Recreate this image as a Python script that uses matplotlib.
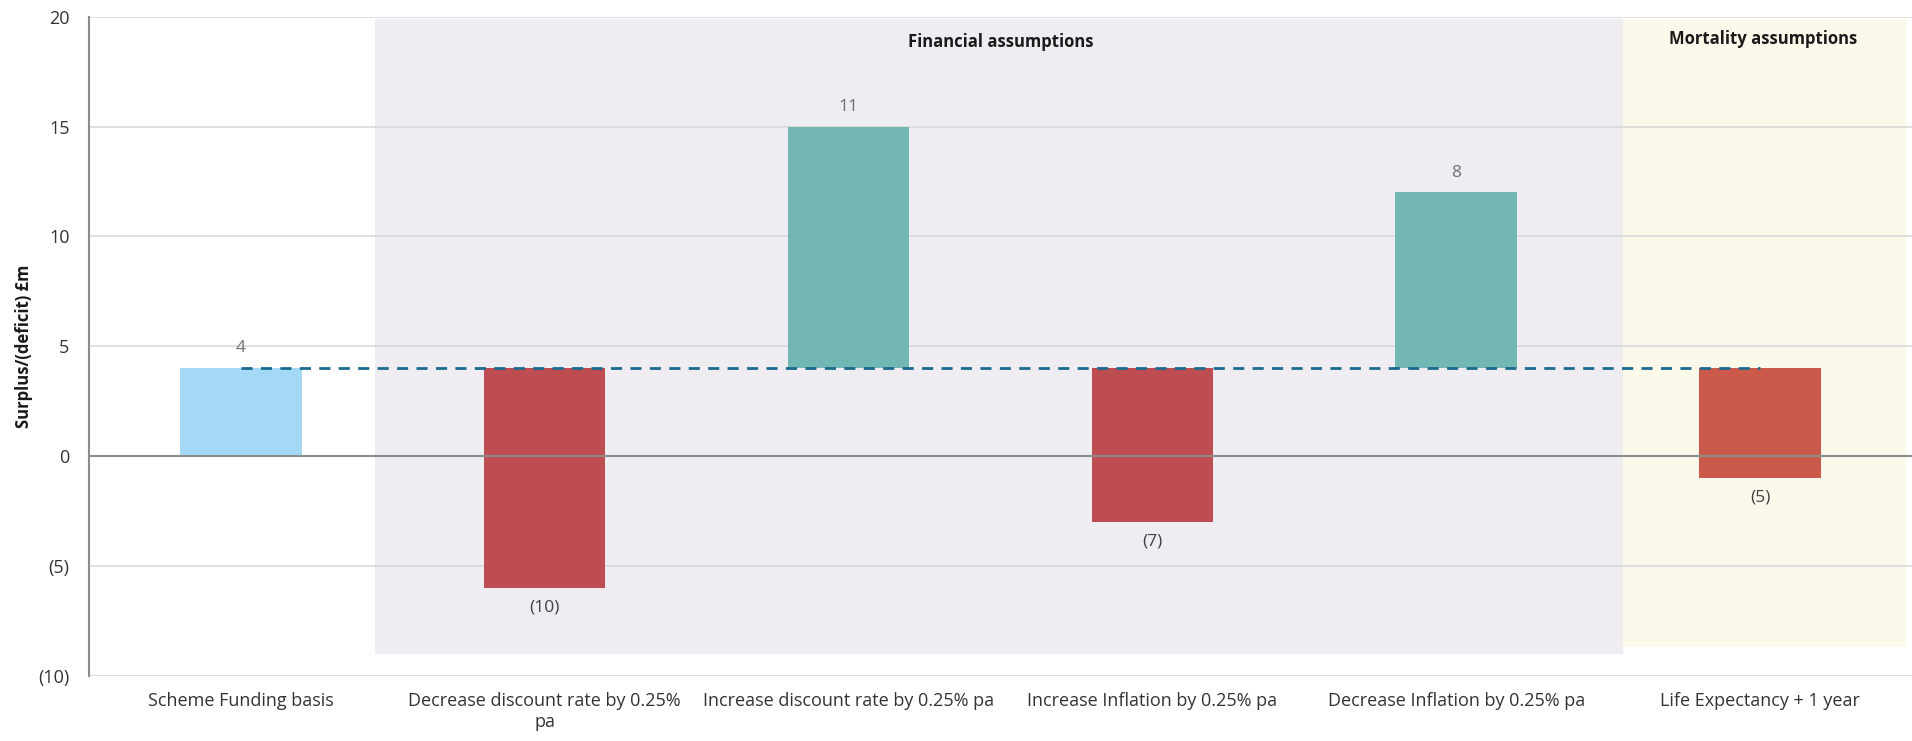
import matplotlib
matplotlib.use("Agg")
import matplotlib.pyplot as plt
from matplotlib.patches import Rectangle

plt.rcParams['font.family'] = ['Open Sans', 'DejaVu Sans']

# data
categories = ['Scheme Funding basis', 'Decrease discount rate by 0.25%\npa',
              'Increase discount rate by 0.25% pa', 'Increase Inflation by 0.25% pa',
              'Decrease Inflation by 0.25% pa', 'Life Expectancy + 1 year']
base_value = 4
changes = [-10, 11, -7, 8, -5]
bar_colors = ['#A3D9F6', '#BE4D51', '#72B7B3', '#BE4D51', '#72B7B3', '#CC5A4B']
y_ticks = [-10, -5, 0, 5, 10, 15, 20]
y_ticklabels = ['(10)', '(5)', '0', '5', '10', '15', '20']


def fmt(v):
    return '({})'.format(abs(v)) if v < 0 else str(v)


fig = plt.figure(figsize=(19.12, 7.41), dpi=100)
ax = fig.add_axes([0.0465, 0.088, 0.9535, 0.8895])
ax.set_axisbelow(True)

# shaded groups
ax.add_patch(Rectangle((0.44, -9.0), 4.11, 28.9, facecolor='#EFEDF2', edgecolor='none', zorder=0))
ax.add_patch(Rectangle((4.55, -8.7), 0.93, 28.6, facecolor='#FCF9EB', edgecolor='none', zorder=0))
ax.text(2.5, 18.85, 'Financial assumptions', ha='center', va='center',
        fontsize=12, fontweight='bold', color='#1a1a1a')
ax.text(5.01, 19.0, 'Mortality assumptions', ha='center', va='center',
        fontsize=12, fontweight='bold', color='#1a1a1a')

# bars
x = list(range(len(categories)))
heights = [base_value] + changes
bottoms = [0] + [base_value] * len(changes)
ax.bar(x, heights, bottom=bottoms, width=0.4, color=bar_colors, zorder=2)

# labels
ax.text(0, base_value + 0.9, fmt(base_value), ha='center', va='center',
        fontsize=12.5, color='#707070', zorder=4)
for i, c in enumerate(changes, start=1):
    end = base_value + c
    if c >= 0:
        ax.text(i, end + 0.9, fmt(c), ha='center', va='center',
                fontsize=12.5, color='#707070', zorder=4)
    else:
        ax.text(i, end - 0.9, fmt(c), ha='center', va='center',
                fontsize=12.5, color='#404040', zorder=4)

# base line
ax.plot([0, len(categories) - 1], [base_value, base_value], ls=(0, (4, 3)),
        color='#1B6A90', lw=2, zorder=3)

ax.axhline(0, color='#8C8C8C', lw=1.5, zorder=2.5)
ax.set_xlim(-0.5, 5.5)
ax.set_ylim(-10, 20)
ax.set_yticks(y_ticks)
ax.set_yticklabels(y_ticklabels)
ax.yaxis.grid(True, color='#D9D9D9', lw=1.2)
ax.set_xticks(x)
ax.set_xticklabels(categories)
ax.tick_params(axis='both', length=0, labelsize=13, colors='#333333')
ax.tick_params(axis='y', pad=14)
ax.tick_params(axis='x', pad=12)
ax.set_ylabel('Surplus/(deficit) £m', fontsize=12, fontweight='bold', color='#1a1a1a', labelpad=4)

for s in ['top', 'right', 'bottom']:
    ax.spines[s].set_visible(False)
ax.spines['left'].set_color('#8C8C8C')
ax.spines['left'].set_linewidth(1.5)
ax.spines['left'].set_zorder(3)

fig.savefig('out.png', dpi=100)
